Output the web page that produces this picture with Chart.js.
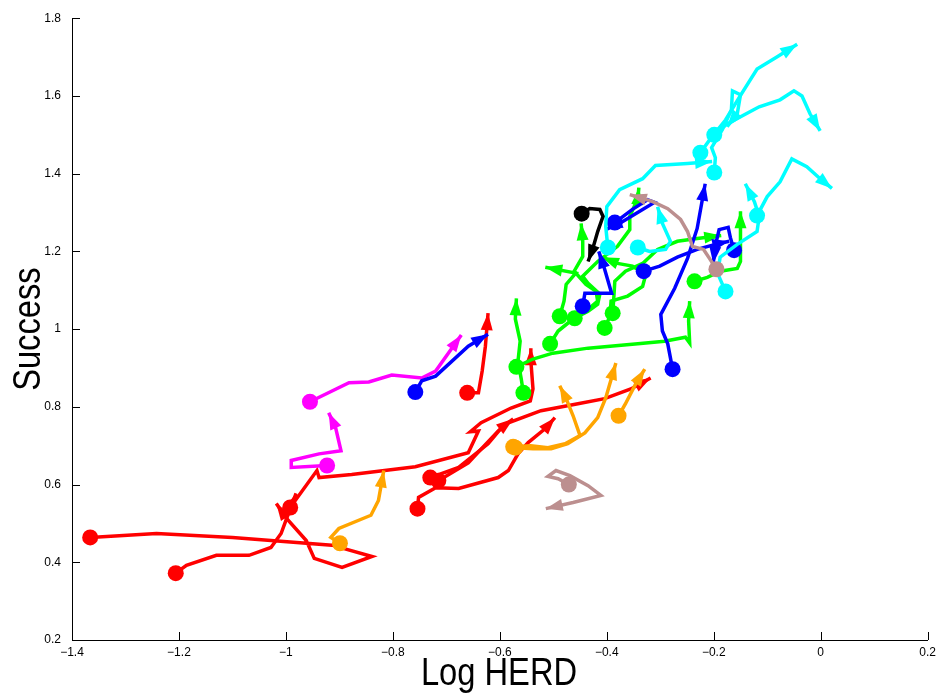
<!DOCTYPE html>
<html>
<head>
<meta charset="utf-8">
<title>Success vs Log HERD</title>
<script src="https://cdn.jsdelivr.net/npm/chart.js@4/dist/chart.umd.min.js"></script>
<style>
  html, body { margin: 0; padding: 0; background: #fff; }
  canvas { display: block; }
</style>
</head>
<body>
<canvas id="chartHerd" width="941" height="698"></canvas>
<script>
/* global Chart */

// ── Ejes ──
const xTitle = 'Log HERD';
const yTitle = 'Success';
const xTicks = [-1.4, -1.2, -1, -0.8, -0.6, -0.4, -0.2, 0, 0.2];
const xTickLabels = ['\u22121.4', '\u22121.2', '\u22121', '\u22120.8', '\u22120.6', '\u22120.4', '\u22120.2', '0', '0.2'];
const yTicks = [0.2, 0.4, 0.6, 0.8, 1, 1.2, 1.4, 1.6, 1.8];
const yTickLabels = ['0.2', '0.4', '0.6', '0.8', '1', '1.2', '1.4', '1.6', '1.8'];

// ── Trayectorias (primer punto = inicio, último = flecha) ──
const red1X = [-1.366, -1.242, -1.100, -0.914, -0.839, -0.895, -0.947, -0.962, -1.000, -1.018];
const red1Y = [0.464, 0.474, 0.464, 0.444, 0.415, 0.387, 0.410, 0.456, 0.515, 0.551];
const red2X = [-1.206, -1.186, -1.130, -1.069, -1.028, -1.009, -1.000, -0.981];
const red2Y = [0.372, 0.392, 0.418, 0.418, 0.438, 0.474, 0.508, 0.577];
const red3X = [-0.992, -0.942, -0.938, -0.877, -0.758, -0.659, -0.640, -0.655, -0.635, -0.579, -0.543, -0.538, -0.542, -0.542];
const red3Y = [0.541, 0.636, 0.618, 0.626, 0.646, 0.682, 0.738, 0.736, 0.759, 0.797, 0.815, 0.846, 0.918, 0.951];
const red4X = [-0.754, -0.752, -0.720, -0.677, -0.603, -0.584, -0.566, -0.547, -0.515, -0.497];
const red4Y = [0.538, 0.567, 0.592, 0.590, 0.618, 0.636, 0.679, 0.708, 0.744, 0.772];
const red5X = [-0.730, -0.677, -0.622, -0.597, -0.575];
const red5Y = [0.618, 0.644, 0.705, 0.746, 0.769];
const red6X = [-0.715, -0.659, -0.603, -0.584, -0.523, -0.454, -0.404, -0.355, -0.318];
const red6Y = [0.610, 0.656, 0.738, 0.759, 0.790, 0.808, 0.821, 0.846, 0.874];
const red7X = [-0.661, -0.640, -0.633, -0.627, -0.622];
const red7Y = [0.836, 0.836, 0.892, 0.956, 1.041];

const orange1X = [-0.899, -0.916, -0.901, -0.841, -0.827, -0.817];
const orange1Y = [0.449, 0.464, 0.487, 0.521, 0.559, 0.636];
const orange2X = [-0.575, -0.542, -0.510, -0.478, -0.450, -0.463, -0.476, -0.488];
const orange2Y = [0.697, 0.700, 0.695, 0.705, 0.726, 0.777, 0.821, 0.854];
const orange3X = [-0.571, -0.538, -0.504, -0.473, -0.441, -0.417, -0.402, -0.383];
const orange3Y = [0.695, 0.692, 0.692, 0.705, 0.733, 0.772, 0.823, 0.913];
const orange4X = [-0.378, -0.365, -0.346, -0.329];
const orange4Y = [0.777, 0.808, 0.859, 0.897];

const magenta1X = [-0.955, -0.882, -0.845, -0.802, -0.746, -0.720, -0.687, -0.672];
const magenta1Y = [0.813, 0.862, 0.864, 0.882, 0.874, 0.892, 0.956, 0.985];
const magenta2X = [-0.923, -0.990, -0.990, -0.938, -0.897, -0.907, -0.920];
const magenta2Y = [0.649, 0.644, 0.662, 0.679, 0.687, 0.746, 0.785];

const green1X = [-0.556, -0.560, -0.566, -0.562, -0.571, -0.569];
const green1Y = [0.836, 0.872, 0.918, 0.969, 1.026, 1.079];
const green2X = [-0.569, -0.538, -0.501, -0.435, -0.342, -0.292, -0.253, -0.245, -0.247, -0.245];
const green2Y = [0.903, 0.923, 0.938, 0.951, 0.962, 0.969, 0.979, 0.964, 1.021, 1.072];
const green3X = [-0.506, -0.491, -0.473, -0.454, -0.435, -0.417, -0.420, -0.439, -0.461, -0.445, -0.445, -0.448];
const green3Y = [0.962, 0.995, 1.015, 1.033, 1.051, 1.072, 1.097, 1.115, 1.149, 1.187, 1.226, 1.272];
const green4X = [-0.488, -0.480, -0.476, -0.458, -0.515];
const green4Y = [1.033, 1.072, 1.115, 1.144, 1.159];
const green5X = [-0.460, -0.435, -0.417, -0.413, -0.435, -0.445, -0.417, -0.380, -0.357, -0.357, -0.342, -0.340];
const green5Y = [1.028, 1.046, 1.064, 1.090, 1.118, 1.136, 1.174, 1.213, 1.256, 1.290, 1.336, 1.364];
const green6X = [-0.404, -0.394, -0.392, -0.361, -0.333, -0.327, -0.352, -0.380, -0.409];
const green6Y = [1.003, 1.033, 1.072, 1.085, 1.110, 1.141, 1.162, 1.169, 1.185];
const green7X = [-0.389, -0.387, -0.385, -0.365, -0.333, -0.305, -0.268, -0.231, -0.186];
const green7Y = [1.041, 1.077, 1.123, 1.149, 1.169, 1.205, 1.226, 1.233, 1.241];
const green8X = [-0.236, -0.212, -0.188, -0.156, -0.150, -0.150, -0.150];
const green8Y = [1.123, 1.133, 1.149, 1.156, 1.174, 1.259, 1.303];

const blue1X = [-0.758, -0.746, -0.720, -0.659, -0.622];
const blue1Y = [0.838, 0.867, 0.879, 0.956, 0.987];
const blue2X = [-0.277, -0.286, -0.296, -0.299, -0.273, -0.249, -0.231, -0.216];
const blue2Y = [0.897, 0.962, 0.995, 1.038, 1.105, 1.182, 1.259, 1.374];
const blue3X = [-0.385, -0.352, -0.324, -0.311, -0.333, -0.370, -0.402];
const blue3Y = [1.274, 1.308, 1.333, 1.326, 1.308, 1.277, 1.256];
const blue4X = [-0.445, -0.441, -0.391, -0.404, -0.415];
const blue4Y = [1.059, 1.092, 1.092, 1.154, 1.200];
const blue5X = [-0.331, -0.301, -0.268, -0.231, -0.197, -0.171];
const blue5Y = [1.149, 1.162, 1.185, 1.205, 1.218, 1.226];
const blue6X = [-0.162, -0.169, -0.173, -0.190, -0.197, -0.201];
const blue6Y = [1.203, 1.236, 1.262, 1.256, 1.215, 1.169];

const cyan1X = [-0.398, -0.402, -0.400, -0.376, -0.333, -0.309, -0.249, -0.203];
const cyan1Y = [1.210, 1.264, 1.315, 1.359, 1.387, 1.421, 1.426, 1.431];
const cyan2X = [-0.225, -0.206, -0.178, -0.152, -0.119, -0.082, -0.044];
const cyan2Y = [1.454, 1.490, 1.538, 1.597, 1.669, 1.700, 1.733];
const cyan3X = [-0.199, -0.175, -0.115, -0.076, -0.050, -0.035, -0.020, -0.001];
const cyan3Y = [1.500, 1.528, 1.572, 1.590, 1.613, 1.600, 1.554, 1.510];
const cyan4X = [-0.199, -0.197, -0.204, -0.184, -0.167, -0.165, -0.150, -0.156, -0.175];
const cyan4Y = [1.403, 1.441, 1.467, 1.513, 1.564, 1.613, 1.603, 1.554, 1.521];
const cyan5X = [-0.119, -0.100, -0.076, -0.054, -0.026, -0.001, 0.021];
const cyan5Y = [1.292, 1.341, 1.379, 1.438, 1.418, 1.387, 1.362];
const cyan6X = [-0.178, -0.193, -0.188, -0.156, -0.119, -0.115, -0.124, -0.141];
const cyan6Y = [1.097, 1.144, 1.185, 1.218, 1.251, 1.290, 1.328, 1.374];
const cyan7X = [-0.342, -0.320, -0.290, -0.281, -0.296, -0.305];
const cyan7Y = [1.210, 1.200, 1.205, 1.226, 1.272, 1.315];

const blackX = [-0.447, -0.432, -0.413, -0.407, -0.417, -0.426, -0.435];
const blackY = [1.297, 1.310, 1.308, 1.290, 1.251, 1.208, 1.174];

const brown1X = [-0.471, -0.491, -0.510, -0.495, -0.469, -0.435, -0.411, -0.463, -0.514];
const brown1Y = [0.600, 0.615, 0.621, 0.636, 0.623, 0.597, 0.572, 0.554, 0.538];
const brown2X = [-0.195, -0.208, -0.219, -0.240, -0.249, -0.262, -0.286, -0.314, -0.357];
const brown2Y = [1.154, 1.182, 1.205, 1.213, 1.251, 1.282, 1.310, 1.328, 1.346];

const COLORS = {
  red: '#ff0000', orange: '#ffa500', magenta: '#ff00ff', green: '#00ff00',
  blue: '#0000ff', cyan: '#00ffff', black: '#000000', brown: '#bc8f8f',
};

// [x, y, color] en orden de dibujo (los últimos quedan encima)
const tracks = [
  [red1X, red1Y, 'red'], [red2X, red2Y, 'red'], [red3X, red3Y, 'red'], [red4X, red4Y, 'red'],
  [red5X, red5Y, 'red'], [red6X, red6Y, 'red'], [red7X, red7Y, 'red'],
  [orange1X, orange1Y, 'orange'], [orange2X, orange2Y, 'orange'], [orange3X, orange3Y, 'orange'], [orange4X, orange4Y, 'orange'],
  [magenta1X, magenta1Y, 'magenta'], [magenta2X, magenta2Y, 'magenta'],
  [green1X, green1Y, 'green'], [green2X, green2Y, 'green'], [green3X, green3Y, 'green'], [green4X, green4Y, 'green'],
  [green5X, green5Y, 'green'], [green6X, green6Y, 'green'], [green7X, green7Y, 'green'], [green8X, green8Y, 'green'],
  [blue1X, blue1Y, 'blue'], [blue2X, blue2Y, 'blue'], [blue3X, blue3Y, 'blue'], [blue4X, blue4Y, 'blue'],
  [blue5X, blue5Y, 'blue'], [blue6X, blue6Y, 'blue'],
  [cyan1X, cyan1Y, 'cyan'], [cyan2X, cyan2Y, 'cyan'], [cyan3X, cyan3Y, 'cyan'], [cyan4X, cyan4Y, 'cyan'],
  [cyan5X, cyan5Y, 'cyan'], [cyan6X, cyan6Y, 'cyan'], [cyan7X, cyan7Y, 'cyan'],
  [blackX, blackY, 'black'],
  [brown1X, brown1Y, 'brown'], [brown2X, brown2Y, 'brown'],
];

const datasets = tracks.map(([xs, ys, c], i) => ({
  data: xs.map((x, k) => ({ x, y: ys[k] })),
  showLine: true,
  borderColor: COLORS[c],
  backgroundColor: COLORS[c],
  borderWidth: 3.5,
  pointRadius: (ctx) => (ctx.dataIndex === 0 ? 8 : 0),
  pointBorderWidth: 0,
  pointBackgroundColor: COLORS[c],
  pointHoverRadius: 0,
  order: -i,
}));

// Punta de flecha al final de cada trayectoria, dibujada justo después de su línea
const arrowHeads = {
  id: 'arrowHeads',
  afterDatasetDraw(chart, args) {
    const pts = args.meta.data;
    const n = pts.length;
    if (n < 2) return;
    const tip = pts[n - 1];
    const prev = pts[n - 2];
    const a = Math.atan2(tip.y - prev.y, tip.x - prev.x);
    const len = 17, half = 6;
    const bx = tip.x - len * Math.cos(a);
    const by = tip.y - len * Math.sin(a);
    const ctx = chart.ctx;
    ctx.save();
    ctx.fillStyle = chart.data.datasets[args.index].borderColor;
    ctx.beginPath();
    ctx.moveTo(tip.x, tip.y);
    ctx.lineTo(bx + half * Math.sin(a), by - half * Math.cos(a));
    ctx.lineTo(bx - half * Math.sin(a), by + half * Math.cos(a));
    ctx.closePath();
    ctx.fill();
    ctx.restore();
  },
};

// Marcas de eje hacia dentro y títulos de los ejes
const axisDecor = {
  id: 'axisDecor',
  afterDraw(chart) {
    const { ctx, chartArea: a, scales: { x, y } } = chart;
    ctx.save();
    ctx.strokeStyle = '#000';
    ctx.lineWidth = 1;
    ctx.beginPath();
    xTicks.forEach((v) => {
      const px = Math.round(x.getPixelForValue(v)) + 0.5;
      ctx.moveTo(px, a.bottom);
      ctx.lineTo(px, a.bottom - 8);
    });
    yTicks.forEach((v) => {
      const py = Math.round(y.getPixelForValue(v)) + 0.5;
      ctx.moveTo(a.left, py);
      ctx.lineTo(a.left + 8, py);
    });
    ctx.stroke();

    ctx.fillStyle = '#000';
    ctx.font = '38px "Liberation Sans", Arial, sans-serif';
    ctx.textAlign = 'center';
    ctx.textBaseline = 'alphabetic';
    ctx.save();
    ctx.translate(499, 685);
    ctx.scale(0.86, 1);
    ctx.fillText(xTitle, 0, 0);
    ctx.restore();
    ctx.save();
    ctx.translate(40, (a.top + a.bottom) / 2);
    ctx.rotate(-Math.PI / 2);
    ctx.scale(0.86, 1);
    ctx.fillText(yTitle, 0, 0);
    ctx.restore();
    ctx.restore();
  },
};

const tickFont = { family: '"Liberation Sans", Arial, sans-serif', size: 12 };

new Chart(document.getElementById('chartHerd').getContext('2d'), {
  type: 'scatter',
  data: { datasets },
  plugins: [arrowHeads, axisDecor],
  options: {
    responsive: false,
    animation: false,
    devicePixelRatio: 1,
    events: [],
    layout: { padding: { left: 0, right: 11, top: 16, bottom: 0 } },
    plugins: { legend: { display: false }, tooltip: { enabled: false } },
    scales: {
      x: {
        type: 'linear',
        min: -1.4,
        max: 0.2,
        afterBuildTicks: (s) => { s.ticks = xTicks.map((v) => ({ value: v })); },
        afterFit: (s) => { s.height = 58; },
        grid: { display: false, drawTicks: false },
        border: { display: true, color: '#000', width: 1 },
        ticks: {
          color: '#000', font: tickFont, padding: 5, autoSkip: false, maxRotation: 0,
          callback: (v, i) => xTickLabels[i],
        },
      },
      y: {
        type: 'linear',
        min: 0.2,
        max: 1.8,
        afterBuildTicks: (s) => { s.ticks = yTicks.map((v) => ({ value: v })); },
        afterFit: (s) => { s.width = 72; },
        grid: { display: false, drawTicks: false },
        border: { display: true, color: '#000', width: 1 },
        ticks: {
          color: '#000', font: tickFont, padding: 11, autoSkip: false,
          callback: (v, i) => yTickLabels[i],
        },
      },
    },
  },
});
</script>
</body>
</html>
